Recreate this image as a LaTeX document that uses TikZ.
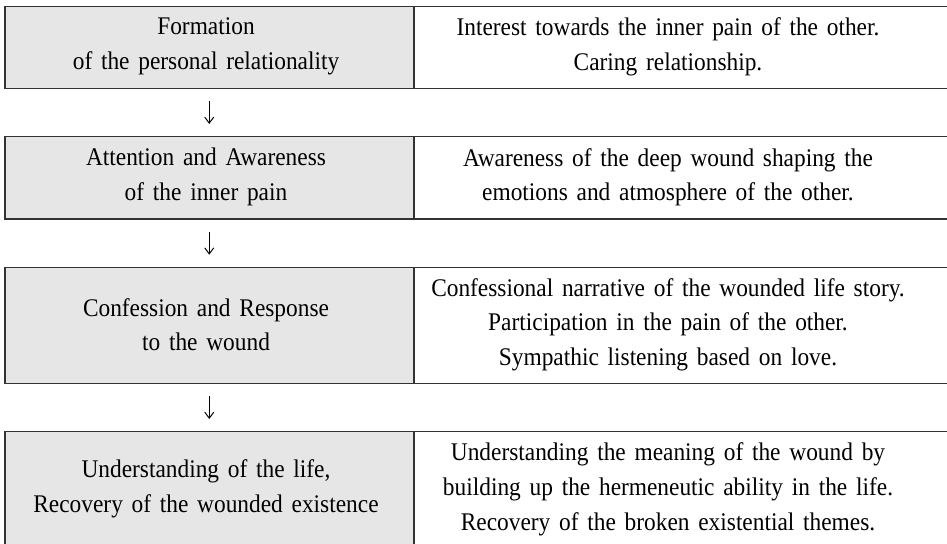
\documentclass[tikz,border=0pt]{standalone}
\usepackage{fontspec}
\setmainfont{Liberation Serif}[FakeStretch=0.92,WordSpace=1.5]
\usetikzlibrary{arrows.meta}
\definecolor{linec}{HTML}{333333}
\definecolor{grayfill}{HTML}{E6E6E6}
\begin{document}
\begin{tikzpicture}[x=0.5pt,y=-0.5pt,
  cell/.style={draw=linec,line width=0.75pt,inner sep=0pt,anchor=north west},
  lcell/.style={cell,fill=grayfill,minimum width=204.5pt},
  rcell/.style={cell,minimum width=268pt},
  txt/.style={align=center,inner sep=0pt,font=\fontsize{12.7pt}{17.4pt}\selectfont},
  arr/.style={draw=black,line width=0.5pt,-{Straight Barb[length=3pt,width=4.5pt]}}
]
\useasboundingbox (0,0) rectangle (947,544);
% row 1
\node[lcell,minimum height=41pt] (l1) at (4,5.7) {};
\node[rcell,minimum height=41pt] (r1) at (413,5.7) {};
\node[txt] (tl1) at (206,46.7) {Formation\\of the personal relationality};
\node[txt] (tr1) at (668,46.7) {Interest towards the inner pain of the other.\\Caring relationship.};
% row 2
\node[lcell,minimum height=41.15pt] (l2) at (4,136) {};
\node[rcell,minimum height=41.15pt] (r2) at (413,136) {};
\node[txt] (tl2) at (206,177.2) {Attention and Awareness\\of the inner pain};
\node[txt] (tr2) at (668,177.2) {Awareness of the deep wound shaping the\\emotions and atmosphere of the other.};
% row 3
\node[lcell,minimum height=58pt] (l3) at (4,266.7) {};
\node[rcell,minimum height=58pt] (r3) at (413,266.7) {};
\node[txt] (tl3) at (206,324.7) {Confession and Response\\to the wound};
\node[txt] (tr3) at (668,324.7) {Confessional narrative of the wounded life story.\\Participation in the pain of the other.\\Sympathic listening based on love.};
% row 4
\node[lcell,minimum height=58pt] (l4) at (4,431) {};
\node[rcell,minimum height=58pt] (r4) at (413,431) {};
\node[txt] (tl4) at (206,489) {Understanding of the life,\\Recovery of the wounded existence};
\node[txt] (tr4) at (668,489) {Understanding the meaning of the wound by\\building up the hermeneutic ability in the life.\\Recovery of the broken existential themes.};
% arrows
\draw[arr] ([yshift=-6pt]l1.south) -- ([yshift=6pt]l2.north);
\draw[arr] ([yshift=-6pt]l2.south) -- ([yshift=6pt]l3.north);
\draw[arr] ([yshift=-6pt]l3.south) -- ([yshift=6pt]l4.north);
\end{tikzpicture}
\end{document}
